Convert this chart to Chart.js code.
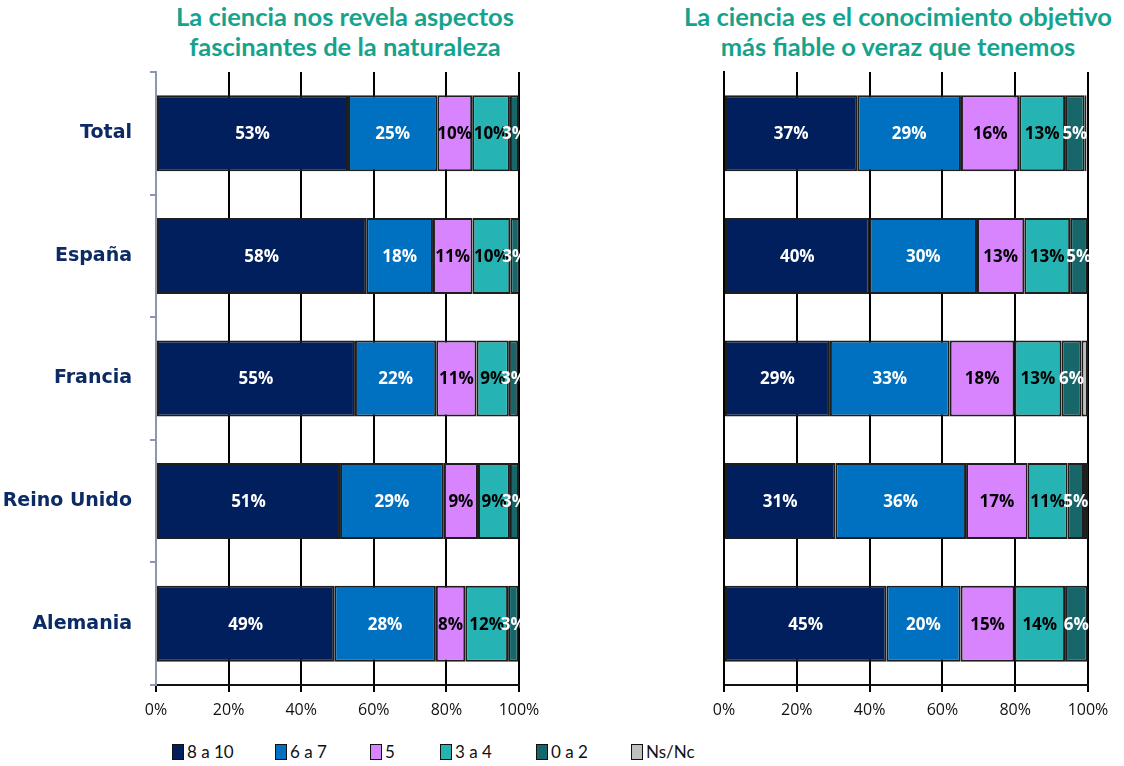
<!DOCTYPE html>
<html>
<head>
<meta charset="utf-8">
<script src="https://cdn.jsdelivr.net/npm/chart.js@4.4.1/dist/chart.umd.min.js"></script>
<style>
	body { margin: 0; background: #fff; width: 1124px; height: 766px; position: relative; overflow: hidden; }
	canvas { position: absolute; top: 0; }
	.title { position: absolute; color: #16a38e; font: bold 25.5px Lato, sans-serif; text-align: center; line-height: 30px; white-space: nowrap; }
	.legend { position: absolute; top: 741px; font: 17px Lato, sans-serif; color: #111; display: flex; align-items: center; }
	.legend span.box { display: inline-block; width: 10px; height: 14px; border: 1.5px solid #111; margin-right: 3px; }
</style>
</head>
<body>
<div class="title" style="left:145px; top:1px; width:400px;">La ciencia nos revela aspectos<br>fascinantes de la naturaleza</div>
<div class="title" style="left:676px; top:1px; width:444px;">La ciencia es el conocimiento objetivo<br>más fiable o veraz que tenemos</div>
<canvas id="chartLeft" width="545" height="730" style="left:0px"></canvas>
<canvas id="chartRight" width="424" height="730" style="left:700px"></canvas>
<div id="legend"></div>
<script>
const countries = ['Total', 'España', 'Francia', 'Reino Unido', 'Alemania'];
const seriesNames = ['8 a 10', '6 a 7', '5', '3 a 4', '0 a 2', 'Ns/Nc'];
const seriesColors = ['#001f5c', '#0070c0', '#d984ff', '#26b3b3', '#17676a', '#c0c0c0'];
const labelColors = ['#fff', '#fff', '#000', '#000', '#fff', '#000'];
const xTicks = [0, 20, 40, 60, 80, 100];

// Left: "La ciencia nos revela aspectos fascinantes de la naturaleza"
const left8a10 = [52.9, 57.9, 54.8, 50.7, 49.1];
const left6a7 = [24.6, 18.4, 22.4, 28.6, 28.0];
const left5 = [9.6, 10.9, 11.1, 9.4, 8.1];
const left3a4 = [10.4, 10.4, 8.9, 8.8, 11.8];
const left0a2 = [2.5, 2.5, 2.6, 2.5, 2.9];
const leftNsNc = [0, 0, 0, 0, 0];

// Right: "La ciencia es el conocimiento objetivo más fiable o veraz que tenemos"
const right8a10 = [36.6, 40.0, 29.1, 30.6, 44.6];
const right6a7 = [28.5, 29.5, 32.9, 35.9, 20.4];
const right5 = [16.0, 13.0, 17.8, 16.9, 14.8];
const right3a4 = [12.6, 12.6, 12.9, 11.0, 13.9];
const right0a2 = [5.4, 4.7, 5.5, 4.5, 6.2];
const rightNsNc = [0.5, 0.2, 1.8, 1.1, 0];

const segmentLabels = {
	id: 'segmentLabels',
	afterDatasetsDraw(chart) {
		const ctx = chart.ctx;
		ctx.save();
		ctx.font = 'bold 17px "Open Sans", sans-serif';
		ctx.textAlign = 'center';
		ctx.textBaseline = 'middle';
		chart.data.datasets.forEach((ds, i) => {
			if (i === 5) return;
			const meta = chart.getDatasetMeta(i);
			meta.data.forEach((bar, j) => {
				const v = ds.data[j];
				if (!v) return;
				ctx.fillStyle = labelColors[i];
				ctx.fillText(Math.round(v) + '%', (bar.x + bar.base) / 2, bar.y + 1);
			});
		});
		ctx.restore();
	}
};

function makeDatasets(series) {
	return series.map((data, i) => ({
		label: seriesNames[i],
		data: data,
		backgroundColor: seriesColors[i],
		borderColor: '#1e1e1e',
		borderWidth: 2,
		borderSkipped: false,
		categoryPercentage: 0.62,
		barPercentage: 1,
	}));
}

function makeChart(id, series, isLeft) {
	const axisColor = isLeft ? '#8a98b6' : '#000';
	return new Chart(document.getElementById(id), {
		type: 'bar',
		data: { labels: countries, datasets: makeDatasets(series) },
		plugins: [segmentLabels],
		options: {
			indexAxis: 'y',
			responsive: false,
			animation: false,
			layout: { padding: { top: 72, right: isLeft ? 26 : 36, left: 0, bottom: 0 } },
			plugins: { legend: { display: false }, tooltip: { enabled: false } },
			scales: {
				x: {
					stacked: true,
					min: 0,
					max: 100,
					afterBuildTicks: (scale) => { scale.ticks = xTicks.map(v => ({ value: v })); },
					afterFit: (scale) => {
						scale.height = 45;
						scale.paddingLeft = 0;
						scale.paddingRight = 0;
					},
					ticks: {
						callback: (v) => v + '%',
						color: '#111',
						font: { family: '"Open Sans", sans-serif', size: 16 },
						padding: 9,
						maxRotation: 0,
					},
					grid: { color: '#000', lineWidth: 2, tickLength: 7 },
					border: { color: '#111', width: 2 },
				},
				y: {
					stacked: true,
					afterFit: (scale) => { scale.width = isLeft ? 156 : 24; },
					ticks: {
						display: isLeft,
						color: '#0c2a63',
						font: { family: '"DejaVu Sans", sans-serif', size: 19, weight: 'bold' },
						padding: 18,
					},
					grid: {
						display: isLeft,
						drawOnChartArea: false,
						offset: true,
						color: axisColor,
						lineWidth: 2,
						tickLength: 6,
					},
					border: { color: axisColor, width: 2 },
				},
			},
		},
	});
}

makeChart('chartLeft', [left8a10, left6a7, left5, left3a4, left0a2, leftNsNc], true);
makeChart('chartRight', [right8a10, right6a7, right5, right3a4, right0a2, rightNsNc], false);

// legend below both charts
const legendX = [172, 275, 370, 440, 536, 631];
const legendDiv = document.getElementById('legend');
seriesNames.forEach((name, i) => {
	const item = document.createElement('div');
	item.className = 'legend';
	item.style.left = legendX[i] + 'px';
	item.innerHTML = '<span class="box" style="background:' + seriesColors[i] + '"></span>' + name;
	legendDiv.appendChild(item);
});
</script>
</body>
</html>
